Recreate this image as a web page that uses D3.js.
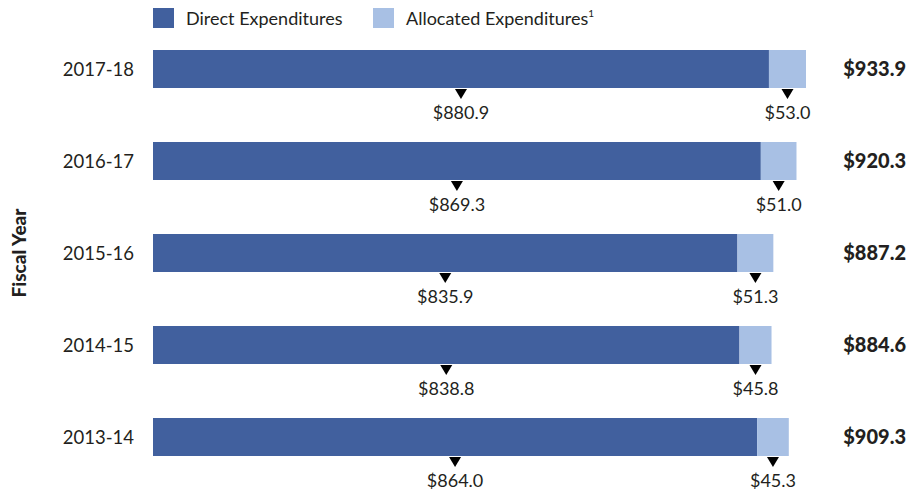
<!DOCTYPE html>
<html lang="en">
<head>
<meta charset="UTF-8">
<title>Expenditures by Fiscal Year</title>
<style>
  * { margin: 0; padding: 0; }
  body { background: #fff; }
  text { font-family: Lato, "Open Sans", sans-serif; fill: #231f20; }
</style>
</head>
<body>
<div id="chart"></div>
<script src="https://cdn.jsdelivr.net/npm/d3@7"></script>
<script>
var years = ['2017-18', '2016-17', '2015-16', '2014-15', '2013-14'];
var direct = [880.9, 869.3, 835.9, 838.8, 864.0];
var allocated = [53.0, 51.0, 51.3, 45.8, 45.3];
var totals = [933.9, 920.3, 887.2, 884.6, 909.3];
var seriesNames = ['Direct Expenditures', 'Allocated Expenditures'];
var colors = ['#41609e', '#a8c0e4'];

var width = 911, height = 493;
var left = 153;

var svg = d3.select('#chart').append('svg')
  .attr('width', width).attr('height', height);

var x = d3.scaleLinear().domain([0, 933.9]).range([left, 806]);
// step 92px, bar height 38px
var y = d3.scaleBand().domain(years).range([50, 456]).paddingInner(1 - 38 / 92).paddingOuter(0);

var rows = years.map(function (yr, i) {
  return { year: yr, direct: direct[i], allocated: allocated[i], total: totals[i] };
});
var stack = d3.stack().keys(['direct', 'allocated'])(rows);

var fmt = function (v) { return '$' + d3.format('.1f')(v); };

// legend
var legend = svg.append('g');
var lx = [153, 373];
seriesNames.forEach(function (name, i) {
  legend.append('rect').attr('x', lx[i]).attr('y', 8).attr('width', 21).attr('height', 20).attr('fill', colors[i]);
  var t = legend.append('text').attr('x', lx[i] + 33).attr('y', 25).style('font-size', '18px').text(name);
  if (i === 1) t.append('tspan').attr('dy', -8).style('font-size', '10px').text('1');
});

// bars
var layers = svg.selectAll('g.layer').data(stack).enter().append('g')
  .attr('class', 'layer').attr('fill', function (d, i) { return colors[i]; });

layers.selectAll('rect').data(function (d) { return d; }).enter().append('rect')
  .attr('x', function (d) { return x(d[0]); })
  .attr('y', function (d) { return y(d.data.year); })
  .attr('width', function (d) { return x(d[1]) - x(d[0]); })
  .attr('height', y.bandwidth());

// markers + value labels
layers.each(function (layer) {
  var g = svg.append('g');
  layer.forEach(function (d) {
    var cx = (x(d[0]) + x(d[1])) / 2;
    var top = y(d.data.year) + y.bandwidth() + 1;
    g.append('path')
      .attr('d', 'M' + (cx - 6) + ',' + top + 'L' + (cx + 6) + ',' + top + 'L' + cx + ',' + (top + 10) + 'Z')
      .attr('fill', '#000');
    g.append('text').attr('x', cx).attr('y', top + 30)
      .attr('text-anchor', 'middle').style('font-size', '18px')
      .text(fmt(d[1] - d[0]));
  });
});

// year labels
svg.selectAll('text.year').data(rows).enter().append('text')
  .attr('class', 'year')
  .attr('x', 134).attr('y', function (d) { return y(d.year) + y.bandwidth() / 2 + 7; })
  .attr('text-anchor', 'end').style('font-size', '18.5px')
  .text(function (d) { return d.year; });

// totals
svg.selectAll('text.total').data(rows).enter().append('text')
  .attr('class', 'total')
  .attr('x', 906).attr('y', function (d) { return y(d.year) + y.bandwidth() / 2 + 7; })
  .attr('text-anchor', 'end').style('font-size', '20px').style('font-weight', '900')
  .text(function (d) { return fmt(d.total); });

// axis title
svg.append('text')
  .attr('transform', 'translate(26,253) rotate(-90)')
  .attr('text-anchor', 'middle').style('font-size', '19px').style('font-weight', '900')
  .text('Fiscal Year');
</script>
</body>
</html>
